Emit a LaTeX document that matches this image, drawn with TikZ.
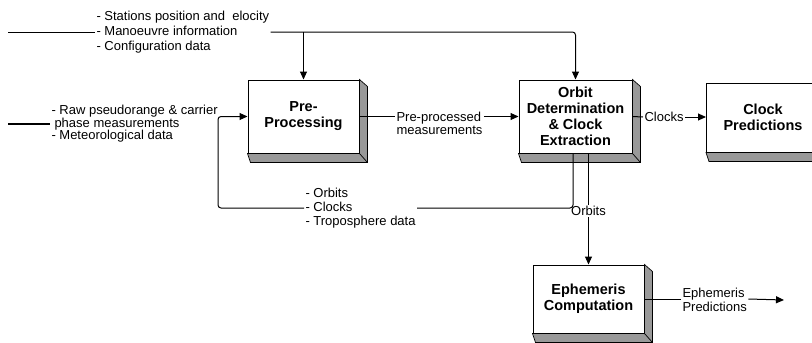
\documentclass[tikz,border=0pt]{standalone}
\usepackage{fontspec}
\setmainfont{Liberation Sans}
\usetikzlibrary{arrows.meta, positioning}

\begin{document}
\begin{tikzpicture}[x=1pt, y=-1pt, line width=1pt, >={Triangle[length=8pt,width=7pt]}]
    \tikzstyle{flow}=[->, rounded corners=3pt]
    \tikzstyle{block}=[rectangle, draw=black, fill=white, inner sep=0pt, align=center, font=\fontsize{14.5}{16}\selectfont\bfseries]
    \tikzstyle{annot}=[inner sep=1pt, align=left, font=\fontsize{13}{14}\selectfont]
    \tikzstyle{bevel}=[fill=black!40, draw=black, line width=0.7pt]

    \useasboundingbox (0,0) rectangle (812,343);
    \clip (0,0) rectangle (812,343);

    % Draw the processing blocks
    \node[block, minimum width=111, minimum height=73] (pre) at (303.5,116.5) {Pre-\\Processing};
    \node[block, minimum width=113, minimum height=73] (orbit) at (575.5,116.5) {Orbit\\Determination\\\& Clock\\Extraction};
    \node[block, minimum width=113, minimum height=69] (clock) at (763,117.5) {Clock\\Predictions};
    \node[block, minimum width=111, minimum height=68] (ephem) at (588.5,299) {Ephemeris\\Computation};

    % shaded edges on the right and bottom of every block
    \foreach \name in {pre, orbit, clock, ephem}{
        \filldraw[bevel] (\name.north east) -- ([shift={(8,7)}]\name.north east) -- ([shift={(8,9)}]\name.south east)
            -- ([shift={(3,9)}]\name.south west) -- (\name.south west) -- (\name.south east) -- cycle;
        \draw[line width=0.7pt] (\name.south east) -- ([shift={(8,9)}]\name.south east);
    }

    % Input data
    \node[annot, anchor=west, font=\fontsize{13}{15}\selectfont] (stations) at (95,32) {- Stations position and\ \ elocity\\- Manoeuvre information\\- Configuration data};
    \node[annot, anchor=west, font=\fontsize{13}{12.5}\selectfont] (raw) at (50,124) {- Raw pseudorange \& carrier\\\hspace{3pt}phase measurements\\- Meteorological data};
    \coordinate (topin) at (8,32);
    \coordinate (rawin) at (8,124);
    \draw (topin) -- (stations.west);
    \draw[line width=1.4pt] (rawin) -- (raw.west);
    \draw[flow] (stations.east) -| (orbit.north);
    \draw[flow] (pre.north |- stations.east) -- (pre.north);

    % Pre-processed measurements and clocks
    \node[annot, anchor=west, font=\fontsize{13}{13}\selectfont] (ppm) at (395,123) {Pre-processed\\measurements};
    \draw (pre.east) -- (pre.east -| ppm.west);
    \draw[->] (ppm.east |- pre.east) -- (orbit.west |- pre.east);
    \node[annot] (clk) at (664,117) {Clocks};
    \draw (orbit.east) -- (clk.west);
    \draw[->] (clk.east) -- (clk.east -| clock.west);

    % Feedback of orbits, clocks and troposphere
    \node[annot, anchor=west] (fb) at (304,208) {- Orbits\\- Clocks\\- Troposphere data};
    \coordinate (loop) at (218,208);
    \draw[rounded corners=3pt] ([xshift=-2.5pt]orbit.south) |- (fb.east);
    \draw[flow] (fb.west) -- (loop) |- (pre.west);

    % Orbits down to the ephemeris
    \node[annot] (orbits) at (588.5,211) {Orbits};
    \draw (orbits.north |- orbit.south) -- (orbits.north);
    \draw[->] (orbits.south) -- (ephem.north);
    \node[annot, anchor=west] (ephpred) at (681,300) {Ephemeris\\Predictions};
    \coordinate (ephout) at (784,300);
    \draw (ephem.east) -- (ephem.east -| ephpred.west);
    \draw[->] (ephpred.east |- ephem.east) -- (ephout);
\end{tikzpicture}
\end{document}
